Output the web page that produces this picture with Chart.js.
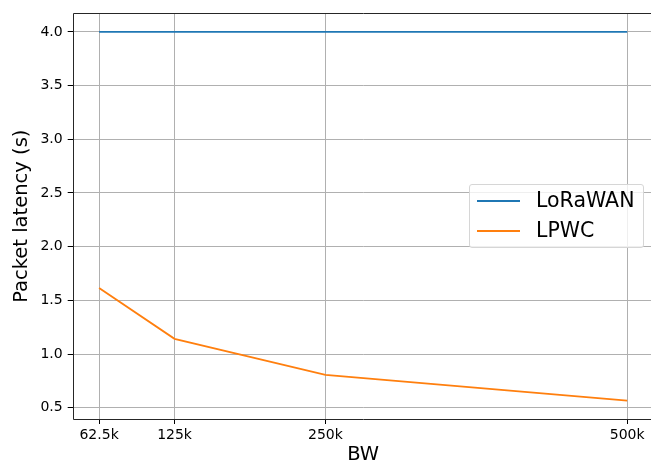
<!DOCTYPE html>
<html>
<head>
<meta charset="utf-8">
<script src="https://cdn.jsdelivr.net/npm/chart.js@4.4.0/dist/chart.umd.min.js"></script>
<style>
  html, body { margin: 0; padding: 0; background: #fff; overflow: hidden; }
  #wrap { position: relative; width: 651px; height: 467px; overflow: hidden; }
  #myChart { position: absolute; left: 0; top: 0; }
  #legend {
    position: absolute; left: 469px; top: 184px; width: 173px; height: 62px;
    border: 1px solid #d6d6d6; border-radius: 3px; background: rgba(255,255,255,0.8);
    font-family: "DejaVu Sans", sans-serif; font-size: 20.5px; color: #000;
  }
  .item { position: absolute; left: 7px; height: 20px; line-height: 20px; }
  .swatch { position: absolute; left: 0; top: 9px; width: 43px; height: 2px; }
  .label { position: absolute; left: 59px; top: -1px; white-space: nowrap; }
</style>
</head>
<body>
<div id="wrap">
  <canvas id="myChart" width="700" height="467"></canvas>
  <div id="legend"></div>
</div>
<script>
const bw = [62.5, 125, 250, 500];
const bwLabels = ["62.5k", "125k", "250k", "500k"];
const lorawan = [4.0, 4.0, 4.0, 4.0];
const lpwc = [1.615, 1.142, 0.807, 0.568];
const yTicks = [0.5, 1.0, 1.5, 2.0, 2.5, 3.0, 3.5, 4.0];

const seriesNames = ["LoRaWAN", "LPWC"];
const seriesColors = ["#1f77b4", "#ff7f0e"];

function toPoints(ys) {
  return bw.map((x, i) => ({ x: x, y: ys[i] }));
}

// spines: left, top, bottom (the right one falls outside the picture)
const frame = {
  id: "frame",
  afterDraw(chart) {
    const a = chart.chartArea;
    const c = chart.ctx;
    const l = Math.round(a.left) + 0.5;
    const t = Math.round(a.top) + 0.5;
    const b = Math.round(a.bottom) + 0.5;
    c.save();
    c.strokeStyle = "#262626";
    c.lineWidth = 1;
    c.beginPath();
    c.moveTo(a.right, t);
    c.lineTo(l, t);
    c.lineTo(l, b);
    c.lineTo(a.right, b);
    c.stroke();
    c.restore();
  },
};

const ctx = document.getElementById("myChart");

new Chart(ctx, {
  type: "line",
  data: {
    datasets: [
      {
        label: seriesNames[0],
        data: toPoints(lorawan),
        borderColor: seriesColors[0],
        borderWidth: 1.8,
        pointRadius: 0,
        tension: 0,
      },
      {
        label: seriesNames[1],
        data: toPoints(lpwc),
        borderColor: seriesColors[1],
        borderWidth: 1.8,
        pointRadius: 0,
        tension: 0,
      },
    ],
  },
  options: {
    responsive: false,
    animation: false,
    devicePixelRatio: 1,
    layout: { padding: { left: 0, top: 13, right: 46.4, bottom: 0 } },
    plugins: {
      legend: { display: false },
      tooltip: { enabled: false },
    },
    scales: {
      x: {
        type: "linear",
        min: 40.625,
        max: 521.875,
        afterBuildTicks: (s) => { s.ticks = bw.map((v) => ({ value: v })); },
        afterFit: (s) => { s.height = 48; },
        ticks: {
          autoSkip: false,
          maxRotation: 0,
          padding: 3,
          color: "#000",
          font: { family: "DejaVu Sans", size: 14 },
          callback: (v) => bwLabels[bw.indexOf(v)],
        },
        grid: { color: "#b0b0b0", lineWidth: 1, tickLength: 5, tickColor: "#000" },
        border: { display: false },
        title: {
          display: true,
          text: "BW",
          color: "#000",
          font: { family: "DejaVu Sans", size: 19.5 },
          padding: { top: 0, bottom: 0 },
        },
      },
      y: {
        min: 0.396,
        max: 4.172,
        afterBuildTicks: (s) => { s.ticks = yTicks.map((v) => ({ value: v })); },
        afterFit: (s) => { s.width = 72.7; },
        ticks: {
          padding: 5,
          color: "#000",
          font: { family: "DejaVu Sans", size: 14 },
          callback: (v) => v.toFixed(1),
        },
        grid: { color: "#b0b0b0", lineWidth: 1, tickLength: 5, tickColor: "#000" },
        border: { display: false },
        title: {
          display: true,
          text: "Packet latency (s)",
          color: "#000",
          font: { family: "DejaVu Sans", size: 19.5 },
          padding: { top: 10, bottom: 0 },
        },
      },
    },
  },
  plugins: [frame],
});

// legend drawn as html, inside the plot like matplotlib's
const legend = document.getElementById("legend");
seriesNames.forEach((name, i) => {
  const item = document.createElement("div");
  item.className = "item";
  item.style.top = (6 + i * 29.5) + "px";
  item.innerHTML = '<div class="swatch" style="background:' + seriesColors[i] +
    '"></div><div class="label">' + name + "</div>";
  legend.appendChild(item);
});
</script>
</body>
</html>
